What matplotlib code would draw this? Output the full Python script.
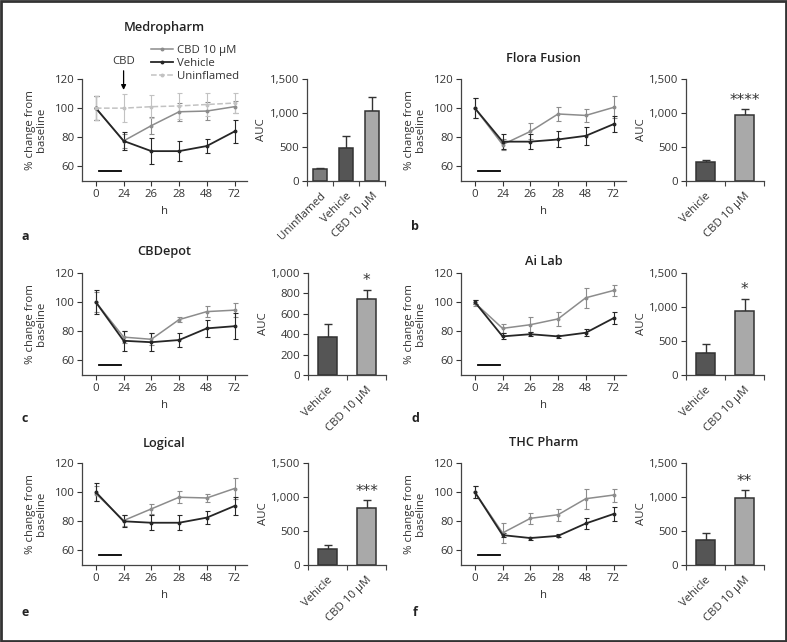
import numpy as np
import matplotlib
matplotlib.use("Agg")
import matplotlib.pyplot as plt
from matplotlib.patches import Rectangle
from matplotlib.lines import Line2D
from matplotlib.ticker import FuncFormatter

plt.rcParams["font.family"] = ["Open Sans", "DejaVu Sans"]

W, H = 787, 642

HOURS = ["0", "24", "26", "28", "48", "72"]

# panel a - Medropharm
a_cbd = [100, 77.5, 88, 97.5, 98, 101]
a_cbd_err = [8, 5, 6, 6, 6, 4]
a_veh = [100, 77.5, 70.5, 70.5, 74, 84]
a_veh_err = [8, 6, 9, 7, 5, 8]
a_uninf = [100, 100, 101, 101.5, 102.5, 103.5]
a_uninf_err = [8, 9.5, 8, 9, 8, 7]
a_bar_labels = ["Uninflamed", "Vehicle", "CBD 10 µM"]
a_auc = [171, 488, 1026]
a_auc_err = [20, 170, 210]

# panel b - Flora Fusion
b_cbd = [100, 75, 84, 96, 95, 100.5]
b_cbd_err = [7, 4, 5.5, 4.5, 4.5, 7.5]
b_veh = [100, 77, 77, 78.5, 81, 89]
b_veh_err = [7, 5, 5, 5.5, 6, 5.5]
b_auc = [278, 972]
b_auc_err = [35, 88]

# panel c - CBDepot
c_cbd = [100, 76, 74.5, 88, 93.5, 94.5]
c_cbd_err = [7, 4, 4, 1.5, 4, 5]
c_veh = [100, 73.5, 72.5, 74, 82, 83.5]
c_veh_err = [8, 7, 6, 4.5, 6, 9]
c_auc = [377, 744]
c_auc_err = [120, 94]

# panel d - Ai Lab
d_cbd = [99.5, 82, 84.5, 88.5, 103, 108]
d_cbd_err = [2, 3, 5, 5, 7, 3.5]
d_veh = [100, 76.5, 78, 76.5, 79, 89]
d_veh_err = [1.5, 2, 1.5, 1, 2.5, 4]
d_auc = [317, 935]
d_auc_err = [146, 190]

# panel e - Logical
e_cbd = [99, 80.5, 88.5, 96.5, 96, 102.5]
e_cbd_err = [5, 4, 3.5, 4, 3, 7]
e_veh = [100, 80, 79, 79, 82.5, 90.5]
e_veh_err = [6, 4, 5, 5, 4.5, 6.5]
e_auc = [238, 845]
e_auc_err = [53, 111]

# panel f - THC Pharm
f_cbd = [100, 72, 82, 84.5, 95.5, 98]
f_cbd_err = [4, 7, 4, 4, 7, 4.5]
f_veh = [100, 70.5, 68.5, 70, 78.5, 85]
f_veh_err = [4, 1.5, 1, 1, 4, 4.5]
f_auc = [364, 990]
f_auc_err = [112, 107]

two_labels = ["Vehicle", "CBD 10 µM"]

# inflammation bar under the first interval (category units, y value)
INFLAM = (0.1, 0.9, 57)

C_CBD = "#8c8c8c"
C_VEH = "#262626"
C_UNINF = "#c2c2c2"
BAR_COLORS = {"Uninflamed": "#7c7c7c", "Vehicle": "#555555", "CBD 10 µM": "#a9a9a9"}
TXT = "#333333"
FS = 8.2


def px_axes(fig, left, top, width, height):
    return fig.add_axes([left / W, 1 - (top + height) / H, width / W, height / H])


def style(ax):
    for s in ("top", "right"):
        ax.spines[s].set_visible(False)
    for s in ("left", "bottom"):
        ax.spines[s].set_color("#444444")
        ax.spines[s].set_linewidth(0.9)
    ax.tick_params(labelsize=FS, colors=TXT, length=3.5, width=0.8, pad=2)


def line_panel(ax, series):
    x = np.arange(len(HOURS))
    handles = []
    for vals, err, color, ls, lab in series:
        lw = 1.3 if color == C_VEH else 1.1
        ax.errorbar(x, vals, yerr=err, color=color, ls=ls, lw=lw,
                    marker="o", ms=1.8, capsize=1.8, elinewidth=0.8, capthick=0.8)
        handles.append(Line2D([], [], color=color, ls=ls, lw=lw, marker="o", ms=1.8, label=lab))
    ax.plot([INFLAM[0], INFLAM[1]], [INFLAM[2]] * 2, color="black", lw=1.3)
    ax.set_xlim(-0.5, 5.45)
    ax.set_ylim(50, 120)
    ax.set_yticks([60, 80, 100, 120])
    ax.set_xticks(x)
    ax.set_xticklabels(HOURS)
    style(ax)
    ax.set_xlabel("h", fontsize=FS, color=TXT, va="center")
    ax.xaxis.set_label_coords(0.5, -31 / 102)
    ax.set_ylabel("% change from\nbaseline", fontsize=FS, color=TXT, linespacing=1.0,
                  va="center")
    ax.yaxis.set_label_coords(-46 / 165, 0.5)
    return handles


def bar_panel(ax, labels, vals, err, ymax, step, stars=None):
    x = np.arange(len(labels))
    width = 0.55 if len(labels) == 3 else 0.5
    ax.bar(x, vals, width=width, color=[BAR_COLORS[l] for l in labels],
           edgecolor="#333333", linewidth=1.1, zorder=2)
    ax.errorbar(x, vals, yerr=[np.zeros(len(vals)), err], fmt="none", ecolor="#333333",
                elinewidth=1.0, capsize=3, capthick=1.0, zorder=1)
    ax.set_xlim(-0.5, len(labels) - 0.5)
    ax.set_ylim(0, ymax)
    ax.set_yticks(np.arange(0, ymax + 1, step))
    ax.yaxis.set_major_formatter(FuncFormatter(lambda v, p: f"{int(v):,}"))
    ax.set_xticks(x)
    ax.set_xticks(np.arange(len(labels) + 1) - 0.5, minor=True)
    ax.set_xticklabels(labels, rotation=45, ha="right", rotation_mode="anchor")
    style(ax)
    ax.tick_params(axis="x", which="major", length=0, pad=7)
    ax.tick_params(axis="x", which="minor", length=3.5, width=0.8, color="#444444")
    ax.set_ylabel("AUC", fontsize=FS, color=TXT, va="center")
    ax.yaxis.set_label_coords(-45 / 78, 0.5)
    if stars:
        top = vals[-1] + err[-1]
        ax.annotate(stars, xy=(x[-1], top), xytext=(0, 1), textcoords="offset points",
                    ha="center", va="bottom", fontsize=11, color=TXT, family="DejaVu Sans")


fig = plt.figure(figsize=(W / 100, H / 100), dpi=100)

LW_, BW_ = 165, 78
rows = [79, 273, 463]
lefts = [(82, 307), (461, 686)]

panels = [
    ("Medropharm", 0, 0, [(a_cbd, a_cbd_err, C_CBD, "-", "CBD 10 µM"),
                         (a_veh, a_veh_err, C_VEH, "-", "Vehicle"),
                         (a_uninf, a_uninf_err, C_UNINF, "--", "Uninflamed")],
     a_bar_labels, a_auc, a_auc_err, 1500, 500, None, 28, "a", 237),
    ("Flora Fusion", 0, 1, [(b_cbd, b_cbd_err, C_CBD, "-", None), (b_veh, b_veh_err, C_VEH, "-", None)],
     two_labels, b_auc, b_auc_err, 1500, 500, "****", 58, "b", 227),
    ("CBDepot", 1, 0, [(c_cbd, c_cbd_err, C_CBD, "-", None), (c_veh, c_veh_err, C_VEH, "-", None)],
     two_labels, c_auc, c_auc_err, 1000, 200, "*", 252, "c", 418),
    ("Ai Lab", 1, 1, [(d_cbd, d_cbd_err, C_CBD, "-", None), (d_veh, d_veh_err, C_VEH, "-", None)],
     two_labels, d_auc, d_auc_err, 1500, 500, "*", 262, "d", 418),
    ("Logical", 2, 0, [(e_cbd, e_cbd_err, C_CBD, "-", None), (e_veh, e_veh_err, C_VEH, "-", None)],
     two_labels, e_auc, e_auc_err, 1500, 500, "***", 443, "e", 612),
    ("THC Pharm", 2, 1, [(f_cbd, f_cbd_err, C_CBD, "-", None), (f_veh, f_veh_err, C_VEH, "-", None)],
     two_labels, f_auc, f_auc_err, 1500, 500, "**", 443, "f", 612),
]

for title, r, c, series, blabels, auc, auc_err, ymax, step, stars, ty, letter, ly in panels:
    top = rows[r]
    lx, bx = lefts[c]
    axl = px_axes(fig, lx, top, LW_, 102)
    handles = line_panel(axl, series)
    axb = px_axes(fig, bx + (1 if r > 0 and c == 0 else 0), top, BW_, 102)
    bar_panel(axb, blabels, auc, auc_err, ymax, step, stars)
    fig.text((lx + LW_ / 2) / W, 1 - ty / H, title, ha="center", va="center",
             fontsize=9.2, fontweight="semibold", color="#222222")
    fig.text((25 if c == 0 else 415) / W, 1 - ly / H, letter, ha="center", va="center",
             fontsize=9, fontweight="bold", color="#222222")
    if r == 0 and c == 0:
        axl.legend(handles=handles, loc="upper left", bbox_to_anchor=(0.39, 1.38),
                   frameon=False, fontsize=FS, handlelength=1.9, handletextpad=0.4,
                   labelspacing=0.2, borderaxespad=0, labelcolor=TXT)
        axl.annotate("CBD", xy=(1, 112.5), xytext=(1, 128.5), ha="center", va="bottom",
                     fontsize=FS, color=TXT, annotation_clip=False,
                     arrowprops=dict(arrowstyle="-|>", color="black", lw=0.9,
                                     mutation_scale=7, shrinkA=1, shrinkB=0))

fig.add_artist(Rectangle((0.001, 0.001), 0.998, 0.997, transform=fig.transFigure,
                         fill=False, edgecolor="#333333", linewidth=2))

fig.savefig("out.png", dpi=100)
